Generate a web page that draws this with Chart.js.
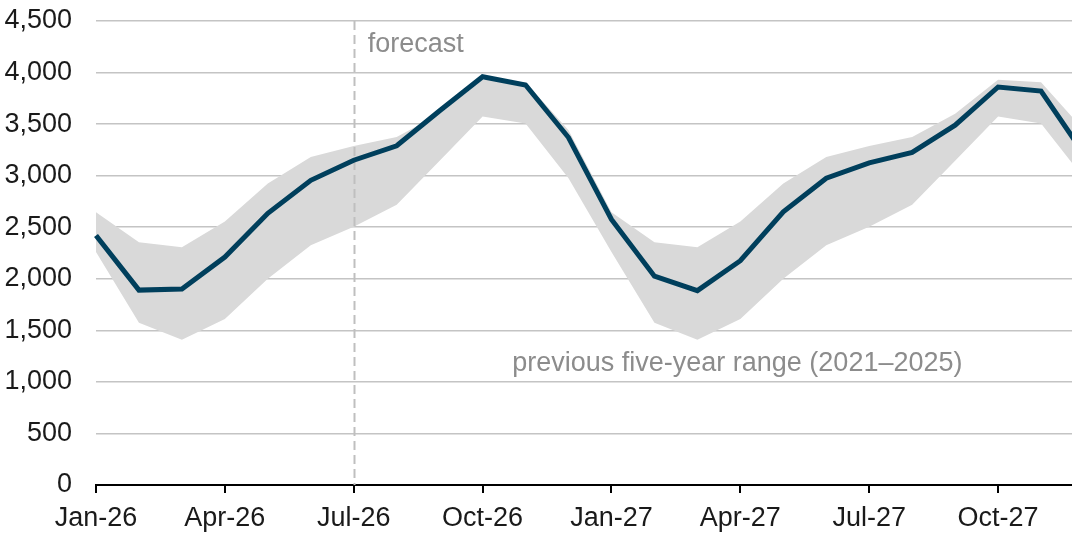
<!DOCTYPE html>
<html>
<head>
<meta charset="utf-8">
<script src="https://cdn.jsdelivr.net/npm/chart.js@4.4.1/dist/chart.umd.min.js"></script>
<style>
    html, body { margin: 0; padding: 0; overflow: hidden; background: #fff; }
    canvas { display: block; }
</style>
</head>
<body>
<canvas id="myChart" width="1090" height="534"></canvas>
<script>
// month categories (the last one, Dec-27, sits just past the right edge)
var months = ['Jan-26', 'Feb-26', 'Mar-26', 'Apr-26', 'May-26', 'Jun-26',
              'Jul-26', 'Aug-26', 'Sep-26', 'Oct-26', 'Nov-26', 'Dec-26',
              'Jan-27', 'Feb-27', 'Mar-27', 'Apr-27', 'May-27', 'Jun-27',
              'Jul-27', 'Aug-27', 'Sep-27', 'Oct-27', 'Nov-27', 'Dec-27'];

var forecastValues = [2420, 1890, 1900, 2210, 2635, 2955, 3150, 3290, 3630, 3960, 3880, 3370,
                      2575, 2025, 1885, 2175, 2650, 2975, 3125, 3225, 3490, 3860, 3820, 3210];

// previous five-year range (2021-2025), by month
var rangeHigh = [2645, 2355, 2305, 2555, 2925, 3180, 3287, 3375, 3600, 3930, 3905, 3440,
                 2645, 2355, 2305, 2555, 2925, 3180, 3287, 3375, 3600, 3930, 3905, 3440];
var rangeLow = [2260, 1573, 1408, 1610, 2000, 2325, 2505, 2718, 3145, 3573, 3505, 2975,
                2260, 1573, 1408, 1610, 2000, 2325, 2505, 2718, 3145, 3573, 3505, 2975];

var yTicks = [0, 500, 1000, 1500, 2000, 2500, 3000, 3500, 4000, 4500];
var forecastStart = 'Jul-26';

var FONT = '"Liberation Sans", Arial, sans-serif';

// dashed forecast line + the two text notes
var notesPlugin = {
    id: 'notes',
    afterDatasetDraw: function(chart, args) {
        if (args.index !== 1) return;
        var ctx = chart.ctx, x = chart.scales.x;
        var px = Math.round(x.getPixelForValue(months.indexOf(forecastStart))) + 0.5;
        ctx.save();
        ctx.strokeStyle = '#bfbfbf';
        ctx.lineWidth = 2;
        ctx.setLineDash([9, 5]);
        ctx.beginPath();
        ctx.moveTo(px, chart.chartArea.top);
        ctx.lineTo(px, chart.chartArea.bottom);
        ctx.stroke();
        ctx.restore();
    },
    afterDraw: function(chart) {
        var ctx = chart.ctx, x = chart.scales.x, y = chart.scales.y;
        ctx.save();
        ctx.fillStyle = '#8c8c8c';
        ctx.font = '27px ' + FONT;
        ctx.textBaseline = 'alphabetic';
        ctx.textAlign = 'left';
        ctx.fillText('forecast', x.getPixelForValue(months.indexOf(forecastStart)) + 14, y.getPixelForValue(4200));
        ctx.textAlign = 'center';
        ctx.fillText('previous five-year range (2021\u20132025)', x.getPixelForValue(months.indexOf('Apr-27')) - 3, y.getPixelForValue(1110));
        ctx.restore();
    }
};

var ctx = document.getElementById('myChart').getContext('2d');
var myChart = new Chart(ctx, {
    type: 'line',
    data: {
        labels: months,
        datasets: [{
            label: 'forecast',
            data: forecastValues,
            borderColor: '#003f5c',
            borderWidth: 5,
            pointRadius: 0,
            fill: false,
            tension: 0,
            borderJoinStyle: 'miter'
        }, {
            label: 'low',
            data: rangeLow,
            borderWidth: 0,
            borderColor: 'rgba(0,0,0,0)',
            pointRadius: 0,
            fill: false
        }, {
            label: 'high',
            data: rangeHigh,
            borderWidth: 0,
            borderColor: 'rgba(0,0,0,0)',
            backgroundColor: '#d9d9d9',
            pointRadius: 0,
            fill: '-1'
        }]
    },
    options: {
        responsive: false,
        animation: false,
        layout: { padding: { top: 21, right: 6, left: 0, bottom: 0 } },
        plugins: {
            legend: { display: false },
            tooltip: { enabled: false }
        },
        scales: {
            x: {
                offset: false,
                border: { display: true, color: '#000', width: 2 },
                grid: {
                    drawOnChartArea: false,
                    drawTicks: true,
                    tickLength: 8,
                    lineWidth: 2,
                    color: function(c) { return c.index % 3 === 0 ? '#000' : 'rgba(0,0,0,0)'; }
                },
                ticks: {
                    autoSkip: false,
                    maxRotation: 0,
                    padding: 9,
                    color: '#1a1a1a',
                    font: { family: FONT, size: 27 },
                    callback: function(v, i) { return i % 3 === 0 ? months[i] : ''; }
                },
                afterFit: function(s) { s.height = 49; s.paddingLeft = 0; s.paddingRight = 0; }
            },
            y: {
                min: 0,
                max: 4500,
                border: { display: false },
                grid: { color: '#c4c4c4', lineWidth: 1.5, drawTicks: false },
                ticks: {
                    padding: 24,
                    color: '#1a1a1a',
                    font: { family: FONT, size: 27 },
                    callback: function(v) { return v.toLocaleString('en-US'); }
                },
                afterBuildTicks: function(s) { s.ticks = yTicks.map(function(v) { return { value: v }; }); },
                afterFit: function(s) { s.width = 96; s.paddingTop = 0; s.paddingBottom = 0; }
            }
        }
    },
    plugins: [notesPlugin]
});
</script>
</body>
</html>
